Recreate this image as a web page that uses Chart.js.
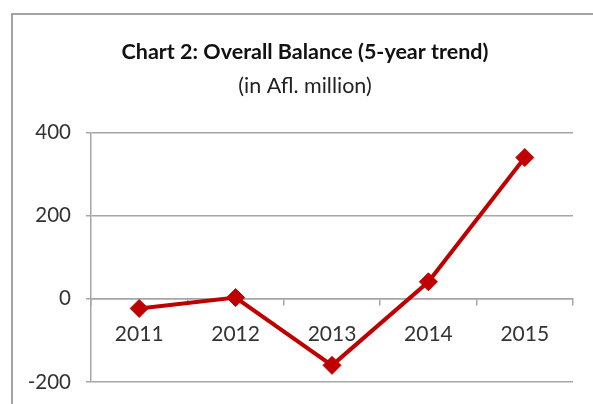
<!DOCTYPE html>
<html>
<head>
<meta charset="utf-8">
<script src="https://cdn.jsdelivr.net/npm/chart.js@4.4.1/dist/chart.umd.min.js"></script>
<style>
  html, body { margin: 0; padding: 0; background: #fff; overflow: hidden; }
  #wrap { position: relative; width: 593px; height: 404px; }
  #frame { position: absolute; left: 11px; top: 13px; width: 700px; height: 500px; border: 2px solid #a3a3a3; box-sizing: border-box; }
  canvas { position: absolute; left: 0; top: 0; }
</style>
</head>
<body>
<div id="wrap">
  <div id="frame"></div>
  <canvas id="c" width="593" height="404"></canvas>
</div>
<script>
const titleText = "Chart 2: Overall Balance (5-year trend)";
const subtitleText = "(in Afl. million)";
const years = ["2011", "2012", "2013", "2014", "2015"];
const overallBalance = [-23, 3, -160, 41, 340];
const yTicks = [-200, 0, 200, 400];
const yTickLabels = ["-200", "0", "200", "400"];

const FONT = "Lato, 'Open Sans', sans-serif";
new Chart(document.getElementById('c'), {
  type: 'line',
  data: {
    labels: years,
    datasets: [{
      data: overallBalance,
      yAxisID: 'y',
      borderColor: '#c00000',
      backgroundColor: '#c00000',
      borderWidth: 4,
      pointStyle: 'rectRot',
      pointRadius: 9,
      pointBorderWidth: 1,
      pointBorderColor: '#c00000',
      pointBackgroundColor: '#c00000',
      tension: 0
    }]
  },
  options: {
    responsive: false,
    animation: false,
    devicePixelRatio: 1,
    layout: { padding: { left: 0, right: -17, top: 29, bottom: 22 } },
    plugins: {
      legend: { display: false },
      tooltip: { enabled: false },
      title: {
        display: true,
        text: titleText,
        color: '#111',
        font: { family: FONT, size: 21.5, weight: 'bold', lineHeight: 1.2 },
        padding: { top: 10, bottom: 8 }
      },
      subtitle: {
        display: true,
        text: subtitleText,
        color: '#222',
        font: { family: FONT, size: 21.5, weight: 'normal', lineHeight: 1.2 },
        padding: { top: 0, bottom: 34 }
      }
    },
    scales: {
      x: {
        type: 'category',
        position: { y: 0 },
        offset: true,
        grid: { display: true, offset: true, drawOnChartArea: false, drawTicks: true, tickLength: 6, color: '#a6a6a6', lineWidth: 1.5 },
        border: { display: true, color: '#a6a6a6', width: 1.5 },
        ticks: { color: '#333', font: { family: FONT, size: 21 }, padding: 17, maxRotation: 0 }
      },
      y: {
        position: 'left',
        min: -200,
        max: 400,
        afterBuildTicks: (s) => { s.ticks = yTicks.map(v => ({ value: v })); },
        afterFit: (s) => { s.width = 91; s.paddingTop = 8; s.paddingBottom = 8; },
        grid: { color: '#a6a6a6', lineWidth: 1.5, tickLength: 5 },
        border: { display: true, color: '#a6a6a6', width: 1.5 },
        ticks: {
          color: '#333', font: { family: FONT, size: 20.5 }, padding: 15,
          callback: (v) => yTickLabels[yTicks.indexOf(v)]
        }
      },
      spacer: {
        type: 'linear',
        position: 'right',
        display: true,
        afterFit: (s) => { s.width = 37; s.paddingTop = 0; s.paddingBottom = 0; },
        grid: { display: false },
        border: { display: false },
        ticks: { display: false }
      }
    }
  }
});
</script>
</body>
</html>
